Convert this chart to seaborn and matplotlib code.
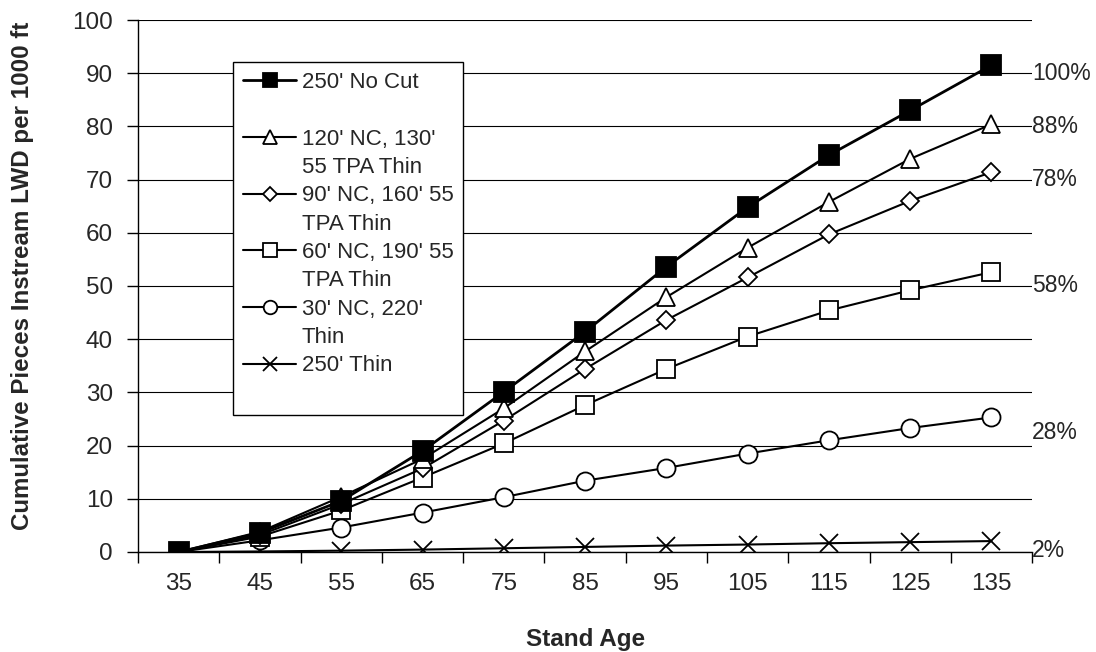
"""  Cumulative instream LWD by stand age for six riparian treatments  """
import matplotlib
matplotlib.use('Agg')
import matplotlib.pyplot as plt  # matplotlib graphing capabilities
from matplotlib.lines import Line2D
import pandas as pd
import seaborn as sns  # seaborn graphing capabilities


# ~~~~~~~~~  Data  ~~~~~~~~~~~~~~~~~~~~~~~~~~~~~~~~~~~~~~~~~~~~~~~~~~~~~~~~~ #
stand_age = [35, 45, 55, 65, 75, 85, 95, 105, 115, 125, 135]

no_cut_250 = [0, 3.6, 9.6, 19.0, 30.1, 41.4, 53.6, 64.8, 74.6, 83.0, 91.5]
nc120_thin130 = [0, 3.8, 10.4, 17.5, 27.0, 37.7, 47.9, 57.2, 65.8, 73.9, 80.4]
nc90_thin160 = [0, 3.2, 9.0, 15.7, 24.7, 34.4, 43.6, 51.6, 59.7, 66.0, 71.4]
nc60_thin190 = [0, 2.9, 7.8, 14.0, 20.4, 27.6, 34.4, 40.5, 45.4, 49.2, 52.6]
nc30_thin220 = [0, 2.2, 4.6, 7.4, 10.3, 13.4, 15.8, 18.5, 21.0, 23.3, 25.3]
thin_250 = [0, 0.1, 0.25, 0.45, 0.7, 0.95, 1.2, 1.4, 1.65, 1.85, 2.05]

series_names = ["250' No Cut", "120' NC, 130' 55 TPA Thin", "90' NC, 160' 55 TPA Thin",
                "60' NC, 190' 55 TPA Thin", "30' NC, 220' Thin", "250' Thin"]
# legend text as it wraps in the original box (two lines per entry)
legend_lines = [("250' No Cut", ""), ("120' NC, 130'", "55 TPA Thin"),
                ("90' NC, 160' 55", "TPA Thin"), ("60' NC, 190' 55", "TPA Thin"),
                ("30' NC, 220'", "Thin"), ("250' Thin", "")]

pct_labels = ['100%', '88%', '78%', '58%', '28%', '2%']
pct_label_y = [90, 80, 70, 50, 22.5, 0.3]

# long form table for seaborn
values = [no_cut_250, nc120_thin130, nc90_thin160, nc60_thin190, nc30_thin220, thin_250]
rows = []
for name, vals in zip(series_names, values):
    for age, v in zip(stand_age, vals):
        rows.append({'Stand Age': age, 'Pieces': v, 'Treatment': name})
df = pd.DataFrame(rows)

# marker styles for each treatment
styles = {
    "250' No Cut": dict(marker='s', ms=14, mfc='black', lw=2.0),
    "120' NC, 130' 55 TPA Thin": dict(marker='^', ms=13, mfc='white', lw=1.5),
    "90' NC, 160' 55 TPA Thin": dict(marker='D', ms=9, mfc='white', lw=1.5),
    "60' NC, 190' 55 TPA Thin": dict(marker='s', ms=13, mfc='white', lw=1.5),
    "30' NC, 220' Thin": dict(marker='o', ms=13, mfc='white', lw=1.5),
    "250' Thin": dict(marker='x', ms=13, mfc='white', lw=1.5),
}

# ~~~~~~~~~  Plot  ~~~~~~~~~~~~~~~~~~~~~~~~~~~~~~~~~~~~~~~~~~~~~~~~~~~~~~~~~ #
sns.set_style('ticks')
plt.rcParams['font.family'] = ['Liberation Sans', 'DejaVu Sans']

fig = plt.figure(figsize=(10.96, 6.52), dpi=100)
ax = fig.add_axes([0.126, 0.1534, 0.8157, 0.8159])

# plot last series first so the filled squares sit on top
for name in series_names[::-1]:
    st = styles[name]
    sub = df[df['Treatment'] == name]
    sns.lineplot(data=sub, x='Stand Age', y='Pieces', ax=ax, color='black',
                 marker=st['marker'], markersize=st['ms'], markerfacecolor=st['mfc'],
                 markeredgecolor='black', markeredgewidth=1.3, linewidth=st['lw'],
                 label=name, zorder=3)

# axes limits and ticks (category style x axis)
ax.set_xlim(30, 140)
ax.set_ylim(0, 100)
ax.set_xticks(stand_age)
ax.set_xticks(range(30, 141, 10), minor=True)
ax.set_yticks(range(0, 101, 10))
ax.tick_params(axis='x', which='major', length=0, pad=15, labelsize=17.5)
ax.tick_params(axis='x', which='minor', length=8, width=1, direction='out', color='black')
ax.tick_params(axis='y', length=8, width=1, direction='out', pad=10, labelsize=17.5, color='black')

ax.grid(axis='y', color='black', linewidth=0.8)
ax.grid(axis='x', visible=False)
for side in ['top', 'right']:
    ax.spines[side].set_visible(False)
for side in ['left', 'bottom']:
    ax.spines[side].set_color('black')
    ax.spines[side].set_linewidth(1)

ax.set_xlabel('Stand Age', fontsize=17.5, fontweight='bold')
ax.set_ylabel('Cumulative Pieces Instream LWD per 1000 ft', fontsize=17.4, fontweight='bold')
ax.xaxis.set_label_coords(0.5, -0.142)
ax.yaxis.set_label_coords(-0.116, 0.52)

# percentage labels on the right
for text, yv in zip(pct_labels, pct_label_y):
    ax.text(1.0, yv, text, transform=ax.get_yaxis_transform(), fontsize=16.5,
            ha='left', va='center', clip_on=False)

# legend: one row per text line, handle on the first line of each entry
handles, labels = ax.get_legend_handles_labels()
lookup = dict(zip(labels, handles))
blank = Line2D([], [], linestyle='none', marker=None)
leg_handles, leg_labels = [], []
for name, (first, second) in zip(series_names, legend_lines):
    leg_handles += [lookup[name], blank]
    leg_labels += [first, second]
leg = ax.legend(leg_handles, leg_labels, loc='upper left', bbox_to_anchor=(0.106, 0.921),
                borderaxespad=0, fontsize=16, frameon=True, fancybox=False,
                framealpha=1, edgecolor='black', handlelength=2.4, handletextpad=0.25,
                labelspacing=0.33, borderpad=0.45, markerscale=0.75)
leg.get_frame().set_linewidth(1)
leg.set_zorder(5)

fig.savefig('out.png', dpi=100)
